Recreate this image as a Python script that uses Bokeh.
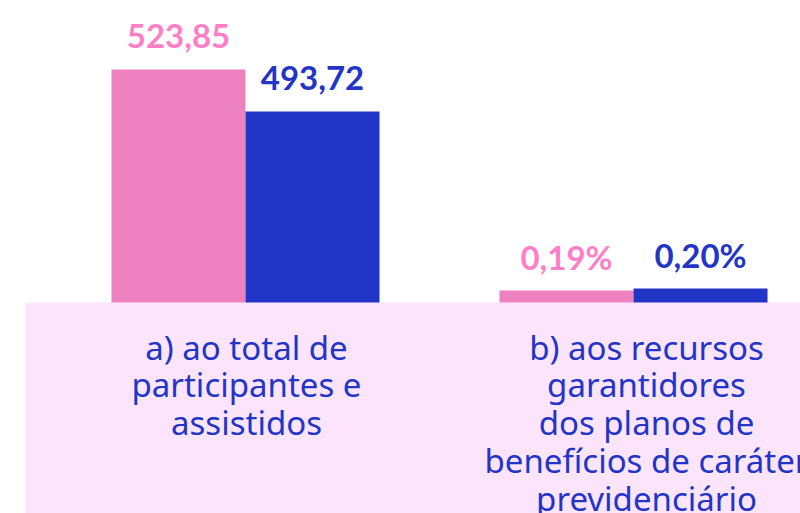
from bokeh.plotting import figure
from bokeh.models import Range1d, BoxAnnotation, ColumnDataSource
from bokeh.transform import dodge
from bokeh.core.properties import value
from bokeh.embed import file_html
from bokeh.resources import INLINE

# ---- data ----
groups = ["a) ao total de\nparticipantes e\nassistidos",
          "b) aos recursos\ngarantidores\ndos planos de\nbenefícios de caráter\nprevidenciário"]
group_pos = [0, 1]
pink_heights = [233, 12]     # drawn bar heights (picture units)
blue_heights = [191, 14]
pink_labels = ["523,85", "0,19%"]
blue_labels = ["493,72", "0,20%"]

PINK = "#EE82C1"
BLUE = "#2335C6"
PINK_TXT = "#FF7EC6"
BG = "#FCE4FC"
label_dx = [1, 13]   # style: horizontal nudge of category labels (px)

src = ColumnDataSource(dict(x=group_pos, pink=pink_heights, blue=blue_heights,
                            pl=pink_labels, bl=blue_labels, cat=groups,
                            zero=[0, 0], dx=label_dx))

W, H = 800, 513
p = figure(width=W, height=H, output_backend="svg", toolbar_location=None,
           x_range=Range1d(-0.6314, 1.4304), y_range=Range1d(-211, 302),
           min_border=0, outline_line_color=None, background_fill_color="white",
           border_fill_color="white")
p.axis.visible = False
p.grid.visible = False

bw = 0.3454
p.add_layout(BoxAnnotation(left=-0.567, top=0, fill_color=BG, fill_alpha=1,
                           line_color=None, level="underlay"))

p.vbar(x=dodge("x", -bw / 2, range=p.x_range), top="pink", width=bw, source=src,
       fill_color=PINK, line_color=None)
p.vbar(x=dodge("x", bw / 2, range=p.x_range), top="blue", width=bw, source=src,
       fill_color=BLUE, line_color=None)

p.text(x=dodge("x", -bw / 2, range=p.x_range), y="pink", text="pl", source=src,
       text_font=value("Lato"), text_font_style="bold", text_font_size="33px",
       text_color=PINK_TXT, text_align="center", text_baseline="alphabetic",
       y_offset=-34)
p.text(x=dodge("x", bw / 2, range=p.x_range), y="blue", text="bl", source=src,
       text_font=value("Lato"), text_font_style="bold", text_font_size="33px",
       text_color=BLUE, text_align="center", text_baseline="alphabetic",
       y_offset=-34)

p.text(x="x", y="zero", text="cat", source=src, text_font=value("Noto Sans"),
       text_font_size="33px", text_color=BLUE, text_align="center",
       text_baseline="top", text_line_height=0.842, y_offset=22, x_offset="dx")

open("out.html", "w").write(file_html(p, INLINE))
